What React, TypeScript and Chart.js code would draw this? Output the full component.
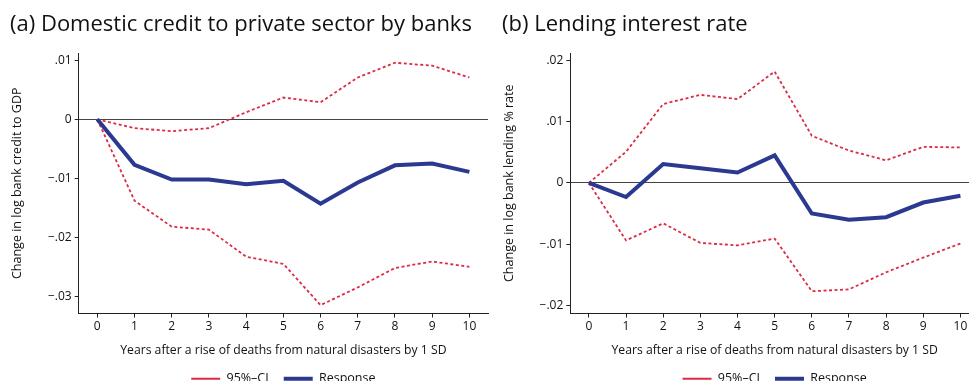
import React, { useEffect, useRef } from "react";
import { Chart, registerables } from "chart.js";

Chart.register(...registerables);

// ---- data ----
const years = ["0", "1", "2", "3", "4", "5", "6", "7", "8", "9", "10"];

const creditResponse = [0, -0.0077, -0.0102, -0.0102, -0.011, -0.0104, -0.0143, -0.0107, -0.0078, -0.0075, -0.0089];
const creditUpper = [0, -0.0015, -0.002, -0.0015, 0.0012, 0.0037, 0.0029, 0.0071, 0.0096, 0.0091, 0.0071];
const creditLower = [0, -0.0138, -0.0182, -0.0187, -0.0233, -0.0245, -0.0315, -0.0285, -0.0252, -0.0241, -0.025];
const creditTicks = [-0.03, -0.02, -0.01, 0, 0.01];

const rateResponse = [0, -0.0023, 0.0031, 0.0024, 0.0017, 0.0045, -0.005, -0.006, -0.0056, -0.0032, -0.0021];
const rateUpper = [0, 0.0051, 0.0129, 0.0144, 0.0137, 0.0182, 0.0077, 0.0053, 0.0037, 0.0059, 0.0058];
const rateLower = [0, -0.0094, -0.0066, -0.0098, -0.0102, -0.0091, -0.0177, -0.0174, -0.0146, -0.0122, -0.0099];
const rateTicks = [-0.02, -0.01, 0, 0.01, 0.02];

const xTitle = "Years after a rise of deaths from natural disasters by 1 SD";
const ciLabel = "95%\u2013CI";
const responseLabel = "Response";

const FONT = "'Open Sans', 'DejaVu Sans', sans-serif";
const TEXT = "#111111";
const RED = "#dc2b44";
const BLUE = "#2b3990";

function fmt(v: number): string {
  if (v === 0) return "0";
  const s = String(Math.abs(v)).replace(/^0/, "");
  return (v < 0 ? "\u2212" : "") + s;
}

type PanelProps = {
  title: string;
  yTitle: string;
  response: number[];
  upper: number[];
  lower: number[];
  ticks: number[];
  yMin: number;
  yMax: number;
  width: number;
  padLeft: number;
  padRight: number;
  yWidth: number;
};

function Panel(p: PanelProps) {
  const ref = useRef<HTMLCanvasElement | null>(null);
  useEffect(() => {
    if (!ref.current) return;
    const chart = new Chart(ref.current, {
      type: "line",
      data: {
        labels: years,
        datasets: [
          {
            label: responseLabel,
            data: p.response,
            borderColor: BLUE,
            backgroundColor: BLUE,
            borderWidth: 4,
            pointRadius: 0,
            tension: 0,
          },
          {
            label: ciLabel,
            data: p.upper,
            borderColor: RED,
            backgroundColor: RED,
            borderWidth: 1.8,
            borderDash: [3, 2.5],
            pointRadius: 0,
            tension: 0,
          },
          {
            label: ciLabel,
            data: p.lower,
            borderColor: RED,
            backgroundColor: RED,
            borderWidth: 1.8,
            borderDash: [3, 2.5],
            pointRadius: 0,
            tension: 0,
          },
        ],
      },
      options: {
        animation: false,
        responsive: false,
        devicePixelRatio: 1,
        layout: { padding: { left: p.padLeft, right: p.padRight, top: 0, bottom: 0 } },
        plugins: {
          tooltip: { enabled: false },
          title: {
            display: true,
            text: p.title,
            align: "start",
            color: TEXT,
            font: { family: FONT, size: 22, weight: "normal", lineHeight: 1.2 },
            padding: { top: 11.8, bottom: 14.8 },
          },
          legend: {
            display: true,
            position: "bottom",
            fullSize: false,
            labels: {
              usePointStyle: true,
              pointStyle: "line",
              pointStyleWidth: 29,
              padding: 15,
              color: TEXT,
              font: { family: FONT, size: 12.5 },
              filter: (item: any) => item.datasetIndex !== 2,
              sort: (a: any, b: any) => b.datasetIndex - a.datasetIndex,
            },
          },
        },
        scales: {
          x: {
            type: "category",
            offset: true,
            grid: {
              display: true,
              drawOnChartArea: false,
              offset: false,
              tickLength: 4,
              tickColor: "#222",
            },
            border: { display: true, color: "#222", width: 1 },
            ticks: {
              color: TEXT,
              padding: 2,
              maxRotation: 0,
              autoSkip: false,
              font: { family: FONT, size: 12 },
            },
            title: {
              display: true,
              text: xTitle,
              color: TEXT,
              font: { family: FONT, size: 12.2, lineHeight: 1.2 },
              padding: { top: 0, bottom: 0 },
            },
            afterFit: (scale: any) => {
              scale.height = 44;
            },
          },
          y: {
            type: "linear",
            min: p.yMin,
            max: p.yMax,
            afterBuildTicks: (scale: any) => {
              scale.ticks = p.ticks.map((v) => ({ value: v }));
            },
            grid: {
              display: true,
              drawOnChartArea: true,
              color: (ctx: any) => (ctx.tick && ctx.tick.value === 0 ? "#444" : "rgba(0,0,0,0)"),
              lineWidth: 1,
              tickLength: 4,
              tickColor: "#222",
            },
            border: { display: true, color: "#222", width: 1 },
            ticks: {
              color: TEXT,
              padding: 3,
              font: { family: FONT, size: 12 },
              callback: (v: any) => fmt(Number(v)),
            },
            title: {
              display: true,
              text: p.yTitle,
              color: TEXT,
              font: { family: FONT, size: 12.5, lineHeight: 1.2 },
              padding: { top: 0, bottom: 0 },
            },
            afterFit: (scale: any) => {
              scale.width = p.yWidth;
            },
          },
        },
      },
    } as any);
    return () => chart.destroy();
  }, []);
  return <canvas ref={ref} width={p.width} height={395} style={{ width: p.width, height: 395, display: "block" }} />;
}

export default function App() {
  return (
    <div
      style={{
        position: "fixed",
        left: 0,
        top: 0,
        width: 969,
        height: 381,
        overflow: "hidden",
        background: "#fff",
      }}
    >
      <div style={{ position: "absolute", left: 0, top: 0 }}>
        <Panel
          title="(a) Domestic credit to private sector by banks"
          yTitle="Change in log bank credit to GDP"
          response={creditResponse}
          upper={creditUpper}
          lower={creditLower}
          ticks={creditTicks}
          yMin={-0.03292}
          yMax={0.01125}
          width={490}
          padLeft={10}
          padRight={2}
          yWidth={68.7}
        />
      </div>
      <div style={{ position: "absolute", left: 490, top: 0 }}>
        <Panel
          title="(b) Lending interest rate"
          yTitle="Change in log bank lending % rate"
          response={rateResponse}
          upper={rateUpper}
          lower={rateLower}
          ticks={rateTicks}
          yMin={-0.02134}
          yMax={0.02124}
          width={500}
          padLeft={12}
          padRight={11}
          yWidth={68.3}
        />
      </div>
    </div>
  );
}
